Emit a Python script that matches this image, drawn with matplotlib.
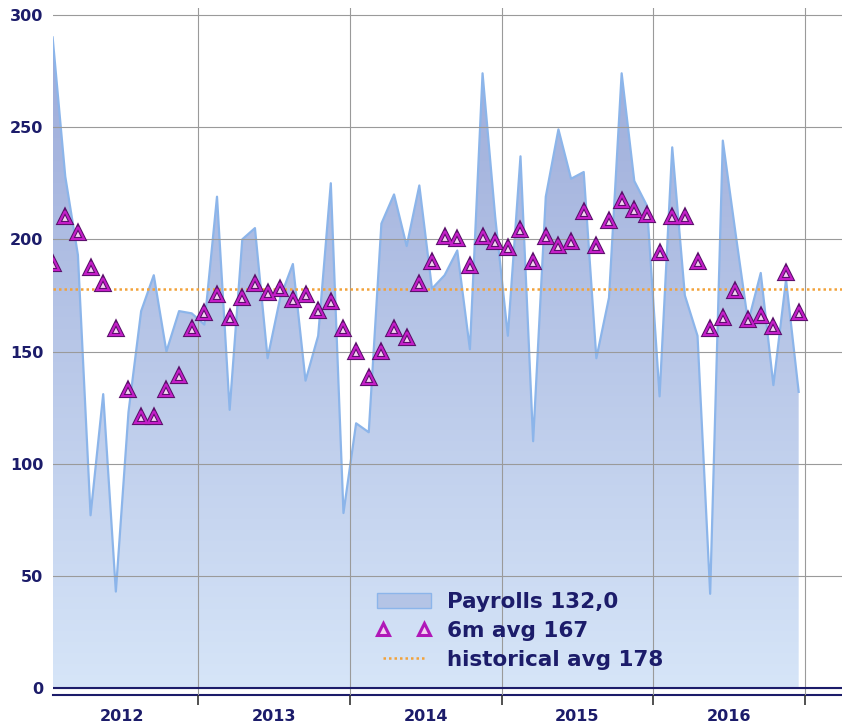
import numpy as np
import matplotlib
matplotlib.use("Agg")
import matplotlib.pyplot as plt
from matplotlib.colors import LinearSegmentedColormap
from matplotlib.lines import Line2D
from matplotlib.patches import Patch

# monthly payrolls Jan 2012 .. Dec 2016 (thousands)
payrolls = [290, 228, 193, 77, 131, 43, 123, 168, 184, 150, 168, 167,
            162, 219, 124, 200, 205, 147, 174, 189, 137, 157, 225, 78,
            118, 114, 207, 220, 197, 224, 178, 184, 195, 151, 274, 210,
            157, 237, 110, 219, 249, 227, 230, 147, 174, 274, 226, 215,
            130, 241, 175, 157, 42, 244, 203, 163, 185, 135, 182, 132]

avg6m = [189, 210, 203, 187, 180, 160, 133, 121, 121, 133, 139, 160,
         167, 175, 165, 174, 180, 176, 178, 173, 175, 168, 172, 160,
         150, 138, 150, 160, 156, 180, 190, 201, 200, 188, 201, 199,
         196, 204, 190, 201, 197, 199, 212, 197, 208, 217, 213, 211,
         194, 210, 210, 190, 160, 165, 177, 164, 166, 161, 185, 167]

hist_avg = 178
years = [2012, 2013, 2014, 2015, 2016]
yticks = [0, 50, 100, 150, 200, 250, 300]

navy = '#1c1c6a'

# month positions in fractional years (mid-month)
t = np.array([years[0] + (i + 0.5) / 12 for i in range(len(payrolls))])
pay = np.array(payrolls)

fig = plt.figure(figsize=(8.42, 7.28), dpi=100)
ax = fig.add_axes([53 / 842, 33 / 728, 789 / 842, 687 / 728])

# gradient area under payrolls
poly = ax.fill_between(t, pay, 0, facecolor='none', edgecolor='none')
cmap = LinearSegmentedColormap.from_list('area', ['#d6e5f8', '#9aa9d8'])
grad = np.linspace(0, 1, 256).reshape(-1, 1)
im = ax.imshow(grad, cmap=cmap, aspect='auto', origin='lower',
               extent=[t[0], t[-1], 0, 300], zorder=1)
im.set_clip_path(poly.get_paths()[0], transform=ax.transData)
ax.plot(t, pay, color='#8cb5ea', lw=1.6, zorder=2)

# historical average
ax.axhline(hist_avg, color='#f2a23a', lw=1.8, ls=(0, (1, 1.2)), zorder=3)

# 6m average triangles
ax.plot(t, avg6m, ls='none', marker='^', ms=9, mfc='#f3d3f1',
        mec='#5a0f6a', mew=3.0, zorder=4)
ax.plot(t, avg6m, ls='none', marker='^', ms=9, mfc='none',
        mec='#c41ec8', mew=1.5, zorder=5)

# zero line and axes
ax.axhline(0, color=navy, lw=1.5, zorder=6)
ax.set_xlim(2012 + 6.7 / 151.75, 2017 + 37 / 151.75)
ax.set_ylim(-3.1, 303.1)

for s in ['left', 'top', 'right']:
    ax.spines[s].set_visible(False)
ax.spines['bottom'].set_color(navy)
ax.spines['bottom'].set_linewidth(1.5)

ax.set_yticks(yticks)
ax.set_yticklabels([str(v) for v in yticks])
ax.tick_params(axis='y', length=0, pad=7, labelsize=11.5, labelcolor=navy)

ax.set_xticks([y + 1 for y in years])
ax.set_xticklabels([])
ax.set_xticks([y + 0.5 for y in years], minor=True)
ax.set_xticklabels([str(y) for y in years], minor=True)
ax.tick_params(axis='x', which='major', length=7, width=1.2, color='#333333', direction='out')
ax.tick_params(axis='x', which='minor', length=0, pad=10, labelsize=11.5, labelcolor=navy)
for lab in ax.get_yticklabels() + ax.get_xticklabels(minor=True):
    lab.set_fontweight('bold')

ax.grid(True, which='major', axis='both', color='#9a9a9a', lw=0.8)
ax.set_axisbelow(False)

handles = [
    Patch(facecolor='#b4c4e6', edgecolor='#8cb5ea'),
    Line2D([], [], ls='none', marker='^', ms=9, mfc='#f3d3f1', mec='#b018b8', mew=2.2),
    Line2D([], [], color='#f2a23a', lw=1.8, ls=(0, (1, 1.2))),
]
labels = ['Payrolls 132,0', '6m avg 167', 'historical avg 178']
leg = fig.legend(handles, labels, loc='lower left', bbox_to_anchor=(377 / 842, 58 / 728),
                 frameon=False, numpoints=2, handlelength=2.5, handletextpad=0.75,
                 labelspacing=0.42, borderpad=0, borderaxespad=0,
                 prop={'size': 15.5, 'weight': 'bold'})
for txt in leg.get_texts():
    txt.set_color(navy)

fig.savefig('out.png', dpi=100)
